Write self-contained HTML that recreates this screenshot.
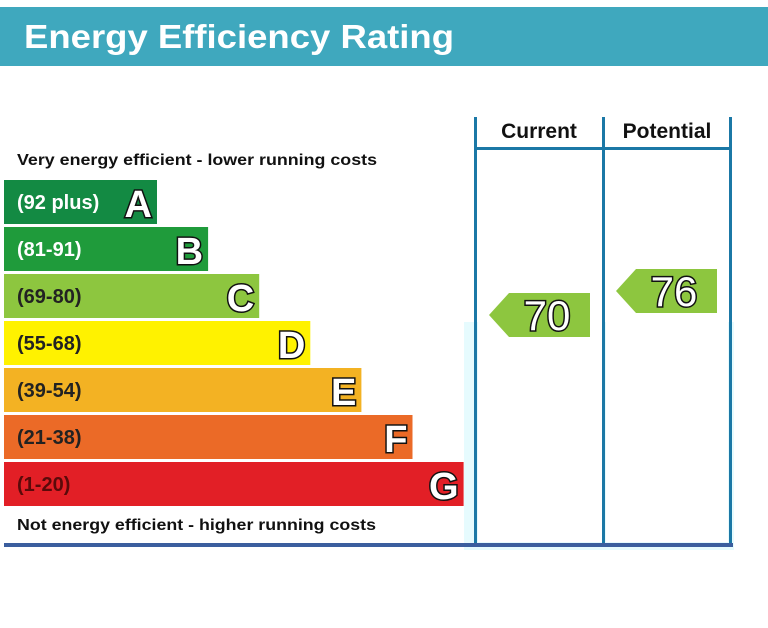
<!DOCTYPE html>
<html><head><meta charset="utf-8"><style>
html,body{margin:0;padding:0;background:#fff;width:768px;height:628px;overflow:hidden}
svg{display:block;font-family:"Liberation Sans",Arial,sans-serif}
</style></head><body>
<svg id="chart" width="768" height="628" viewBox="0 0 768 628">
<rect x="0" y="7" width="768" height="59" fill="#3fa8be"/>
<text x="24" y="48" font-size="33" font-weight="bold" fill="#fff" textLength="430" lengthAdjust="spacingAndGlyphs">Energy Efficiency Rating</text>
<rect x="464" y="322" width="270" height="228" fill="#e6fbfe"/>
<rect x="478" y="322" width="124" height="220" fill="#fff"/>
<rect x="606" y="322" width="122" height="220" fill="#fff"/>
<text x="17" y="165" font-size="16" font-weight="bold" fill="#111" textLength="360" lengthAdjust="spacingAndGlyphs">Very energy efficient - lower running costs</text>
<text x="17" y="530" font-size="16" font-weight="bold" fill="#111" textLength="359" lengthAdjust="spacingAndGlyphs">Not energy efficient - higher running costs</text>
<g id="bands"></g>
<g id="frame">
<rect x="474" y="117" width="3" height="430" fill="#1b78a6"/>
<rect x="602" y="117" width="3" height="430" fill="#1b78a6"/>
<rect x="729" y="117" width="3" height="430" fill="#1b78a6"/>
<rect x="474" y="147" width="258" height="3" fill="#1b78a6"/>
<rect x="4" y="543" width="729" height="4" fill="#3b5e9e"/>
<text x="539" y="138" font-size="21" font-weight="bold" fill="#111" text-anchor="middle">Current</text>
<text x="667" y="138" font-size="21" font-weight="bold" fill="#111" text-anchor="middle">Potential</text>
</g>
<g id="arrows"></g>
</svg>
<script>
const bandLetters = ['A','B','C','D','E','F','G'];
const bandRanges = ['(92 plus)','(81-91)','(69-80)','(55-68)','(39-54)','(21-38)','(1-20)'];
const bandColors = ['#138a43','#1f9b3b','#8dc63f','#fff200','#f3b223','#eb6a27','#e21f26'];
const bandTextColors = ['#fff','#fff','#222','#222','#222','#222','#5a0a0a'];
const ratingLabels = ['Current','Potential'];
const ratingValues = [70, 76];
const ns='http://www.w3.org/2000/svg';
function mk(t,a){const e=document.createElementNS(ns,t);for(const k in a)e.setAttribute(k,a[k]);return e;}
const bandTop=i=>180+i*47, bandH=44, bandRight=i=>157+i*51.1;
const g=document.getElementById('bands');
bandLetters.forEach((L,i)=>{
  const r=mk('rect',{x:4,y:bandTop(i),width:bandRight(i)-4,height:bandH,fill:bandColors[i]});
  
  
  g.appendChild(r);
  const t=mk('text',{x:17,y:bandTop(i)+29,'font-size':20,'font-weight':'bold',fill:bandTextColors[i]});
  t.textContent=bandRanges[i];
  
  
  g.appendChild(t);
  const l=mk('text',{x:bandRight(i)-5,y:bandTop(i)+37,'font-size':38,'font-weight':'bold',fill:'#fff',stroke:'#111','stroke-width':3,'paint-order':'stroke','text-anchor':'end'});
  l.textContent=L;
  
  
  g.appendChild(l);
});
const yScale=v=>291+(76-v)*4;
const colLeft=[489,616];
const ag=document.getElementById('arrows');
ratingValues.forEach((v,i)=>{
  const cy=yScale(v), x0=colLeft[i], x1=x0+101, h=22;
  const p=mk('polygon',{points:`${x0},${cy} ${x0+20},${cy-h} ${x1},${cy-h} ${x1},${cy+h} ${x0+20},${cy+h}`,fill:'#8dc63f'});
  
  
  ag.appendChild(p);
  const t=mk('text',{x:x0+58,y:cy+15,'font-size':42,fill:'#fff',stroke:'#111','stroke-width':3,'paint-order':'stroke','text-anchor':'middle'});
  t.textContent=v;
  
  
  ag.appendChild(t);
});
</script>
</body></html>
